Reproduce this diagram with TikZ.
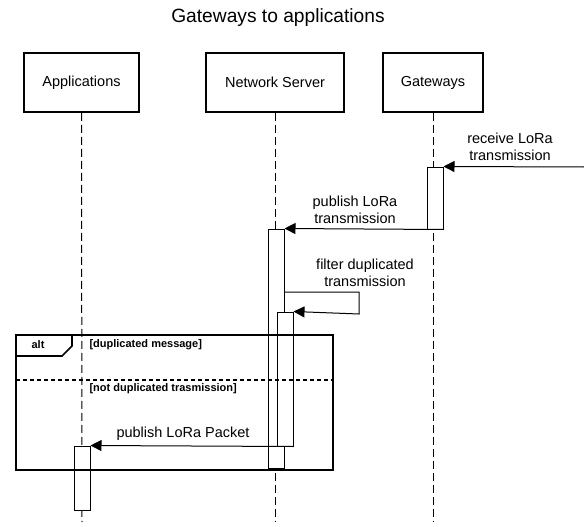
\documentclass[tikz,border=0pt]{standalone}
\usepackage{fontspec}
\setmainfont{Liberation Sans}
\usetikzlibrary{arrows.meta}

\begin{document}
\begin{tikzpicture}[x=1pt, y=-1pt,
    actor/.style={draw, line width=1.6pt, minimum height=59pt, inner sep=0pt,
        font=\fontsize{14.5}{17}\selectfont},
    lifeline/.style={dash pattern=on 8pt off 4pt, line width=1pt},
    activation/.style={draw, fill=white, line width=1pt, minimum width=16pt, inner sep=0pt},
    msg/.style={-{Triangle[length=11pt,width=11pt]}, line width=1pt},
    msgtext/.style={align=center, font=\fontsize{14.5}{16.5}\selectfont},
    guard/.style={anchor=west, font=\fontsize{11}{13}\bfseries\selectfont}]
    \useasboundingbox (0,0) rectangle (584,527);
    % Titulo
    \node (title) at (278,18) {\fontsize{19.2}{22}\selectfont Gateways to applications};
    % Participantes
    \node[actor, minimum width=115pt] (app) at (81.5,82.5) {Applications};
    \node[actor, minimum width=138pt] (ns) at (275,82.5) {Network Server};
    \node[actor, minimum width=100pt] (gw) at (433,82.5) {Gateways};
    % Lineas de vida
    \coordinate (append) at (82,522);
    \coordinate (nsend) at (275,522);
    \coordinate (gwend) at (433,522);
    \draw[lifeline] (app.south) -- (append);
    \draw[lifeline] (ns.south) -- (nsend);
    \draw[lifeline] (gw.south) -- (gwend);
    % Activaciones
    \node[activation, minimum height=62pt] (gwact) at (435,198) {};
    \node[activation, minimum height=239pt] (nsact) at (276,348.5) {};
    \node[activation, minimum height=134pt] (filtact) at (285,379) {};
    \node[activation, minimum height=64pt] (appact) at (82,478) {};
    % Mensaje de entrada
    \coordinate (radio) at (584,167);
    \draw[msg] (radio) -- (gwact.north east);
    \node[msgtext] (rxlabel) at (510,147) {receive LoRa\\transmission};
    % Gateways -> Network Server
    \draw[msg] (gwact.south east) -- (nsact.north east);
    \node[msgtext] (pubtx) at (355,210) {publish LoRa\\transmission};
    % Auto-mensaje de filtrado
    \draw[msg] (nsact.east |- 0,292) -| (359,314) -- (filtact.north east);
    \node[msgtext] (filtlabel) at (365,273) {filter duplicated\\transmission};
    % Fragmento alt
    \draw[line width=1.6pt] (16,335) rectangle (333,470);
    \draw[line width=1.6pt] (16,356) -- (62,356) -- (72,346) -- (72,335);
    \node[font=\fontsize{11}{13}\bfseries\selectfont] (alt) at (38,345) {alt};
    \node[guard] (dup) at (86,345) {[duplicated message]};
    \draw[line width=1.6pt, dash pattern=on 4pt off 3pt] (16,380) -- (333,380);
    \node[guard] (nodup) at (86,389) {[not duplicated trasmission]};
    % Network Server -> Applications
    \draw[msg] (filtact.south east) -- (appact.north east);
    \node[msgtext] (pubpkt) at (183,434) {publish LoRa Packet};
\end{tikzpicture}
\end{document}
